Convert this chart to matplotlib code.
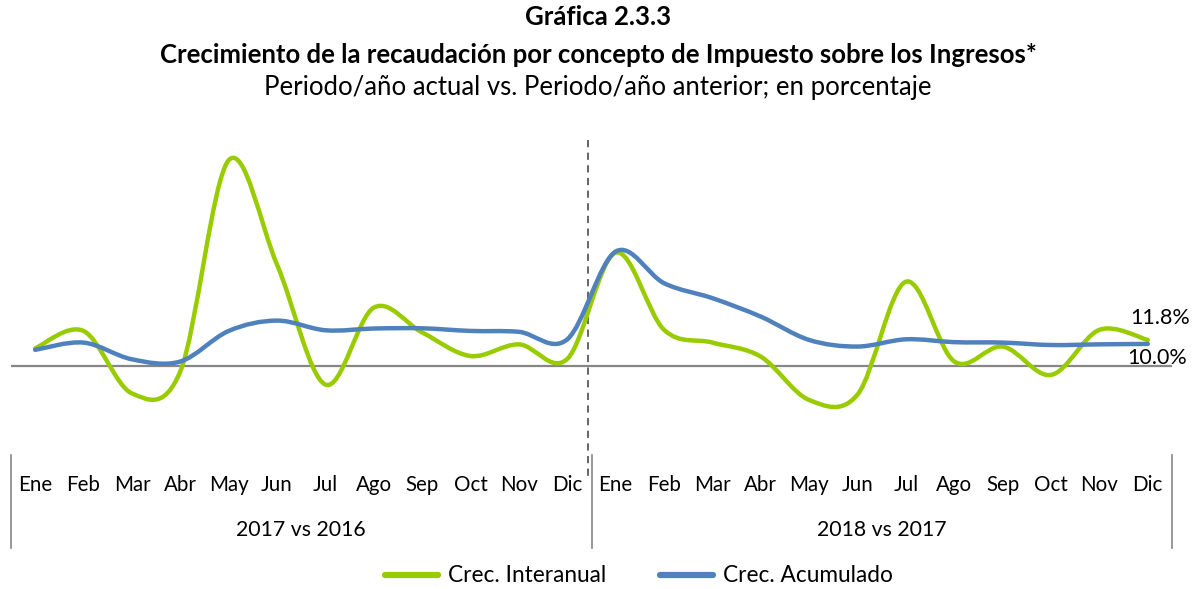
import matplotlib.pyplot as plt
import numpy as np
from matplotlib.path import Path
from matplotlib.patches import PathPatch
from matplotlib.lines import Line2D
from matplotlib import transforms

plt.rcParams['font.family'] = ['Lato', 'DejaVu Sans']

# data (percent growth)
months = ['Ene', 'Feb', 'Mar', 'Abr', 'May', 'Jun',
          'Jul', 'Ago', 'Sep', 'Oct', 'Nov', 'Dic']
periods = ['2017 vs 2016', '2018 vs 2017']
interanual = [8.0, 15.9, -12.5, -2.5, 93.5, 46.0, -8.5, 26.5, 15.2, 4.5, 9.8, 3.2,
              51.5, 16.4, 10.6, 4.2, -15.5, -13.0, 38.3, 2.0, 8.8, -4.1, 16.4, 11.8]
acumulado = [7.3, 10.6, 3.0, 2.0, 15.9, 20.6, 16.2, 17.0, 17.1, 15.9, 15.5, 12.1,
             52.0, 37.6, 30.8, 22.4, 11.8, 8.8, 12.1, 10.8, 10.6, 9.5, 9.8, 10.0]

GREEN = '#99CC00'
BLUE = '#4F81BD'


def smooth_path(xs, ys):
    """Excel-like smoothed line: cubic bezier through every data point."""
    pts = np.column_stack([xs, ys]).astype(float)
    verts = [pts[0]]
    codes = [Path.MOVETO]
    n = len(pts)
    for i in range(n - 1):
        p0 = pts[i - 1] if i > 0 else pts[i]
        p1, p2 = pts[i], pts[i + 1]
        p3 = pts[i + 2] if i + 2 < n else pts[i + 1]
        verts += [p1 + (p2 - p0) / 6, p2 - (p3 - p1) / 6, p2]
        codes += [Path.CURVE4] * 3
    return Path(verts, codes)


fig = plt.figure(figsize=(11.96, 5.89), dpi=100)
ax = fig.add_axes([11 / 1196, 1 - 455 / 589, 1161 / 1196, 315 / 589])

x = np.arange(len(interanual))
ax.set_xlim(-0.5, len(x) - 0.5)
ax.set_ylim(-40.5, 102.7)
ax.axhline(0, color='#868686', lw=1.6, zorder=1)

for vals, col in [(interanual, GREEN), (acumulado, BLUE)]:
    ax.add_patch(PathPatch(smooth_path(x, vals), fill=False, edgecolor=col,
                           lw=3.2, capstyle='round', joinstyle='round', zorder=3))

# dashed divider between the two years
ax.plot([11.43, 11.43], [102.7, -52], ls=(0, (4, 3)), color='#595959',
        lw=1.3, clip_on=False, zorder=2)

# category axis (months + grouping)
trans = transforms.blended_transform_factory(ax.transData, ax.transAxes)
for i in x:
    ax.text(i, -0.095, months[i % 12], transform=trans, ha='center',
            va='center', fontsize=14.8)
for k, name in enumerate(periods):
    ax.text(5.5 + 12 * k, -0.238, name, transform=trans, ha='center',
            va='center', fontsize=15.3)
for xb in [-0.5, 11.5, 23.5]:
    ax.plot([xb, xb], [0, -0.295], transform=trans, color='#868686',
            lw=1.2, clip_on=False)

# end labels
ax.text(23.25, 21.8, f'{interanual[-1]:.1f}%',
        ha='center', va='center', fontsize=15.5)
ax.text(23.2, 3.6, f'{acumulado[-1]:.1f}%',
        ha='center', va='center', fontsize=15.5)

ax.set_xticks([])
ax.set_yticks([])
for s in ax.spines.values():
    s.set_visible(False)

# titles
fig.text(0.5, 1 - 17 / 589, 'Gráfica 2.3.3', ha='center', va='center',
         fontsize=18.5, fontweight='bold')
fig.text(0.5, 1 - 55 / 589,
         'Crecimiento de la recaudación por concepto de Impuesto sobre los Ingresos*',
         ha='center', va='center', fontsize=18.5, fontweight='bold')
fig.text(0.5, 1 - 88 / 589,
         'Periodo/año actual vs. Periodo/año anterior; en porcentaje',
         ha='center', va='center', fontsize=18.5)

handles = [Line2D([], [], color=GREEN, lw=4.5, solid_capstyle='round'),
           Line2D([], [], color=BLUE, lw=4.5, solid_capstyle='round')]
fig.legend(handles, ['Crec. Interanual', 'Crec. Acumulado'], loc='center',
           bbox_to_anchor=(639 / 1196, 1 - 576 / 589), ncol=2, frameon=False,
           fontsize=16.3, handlelength=2.35, columnspacing=2.35,
           handletextpad=0.45)

fig.savefig('out.png', dpi=100)
